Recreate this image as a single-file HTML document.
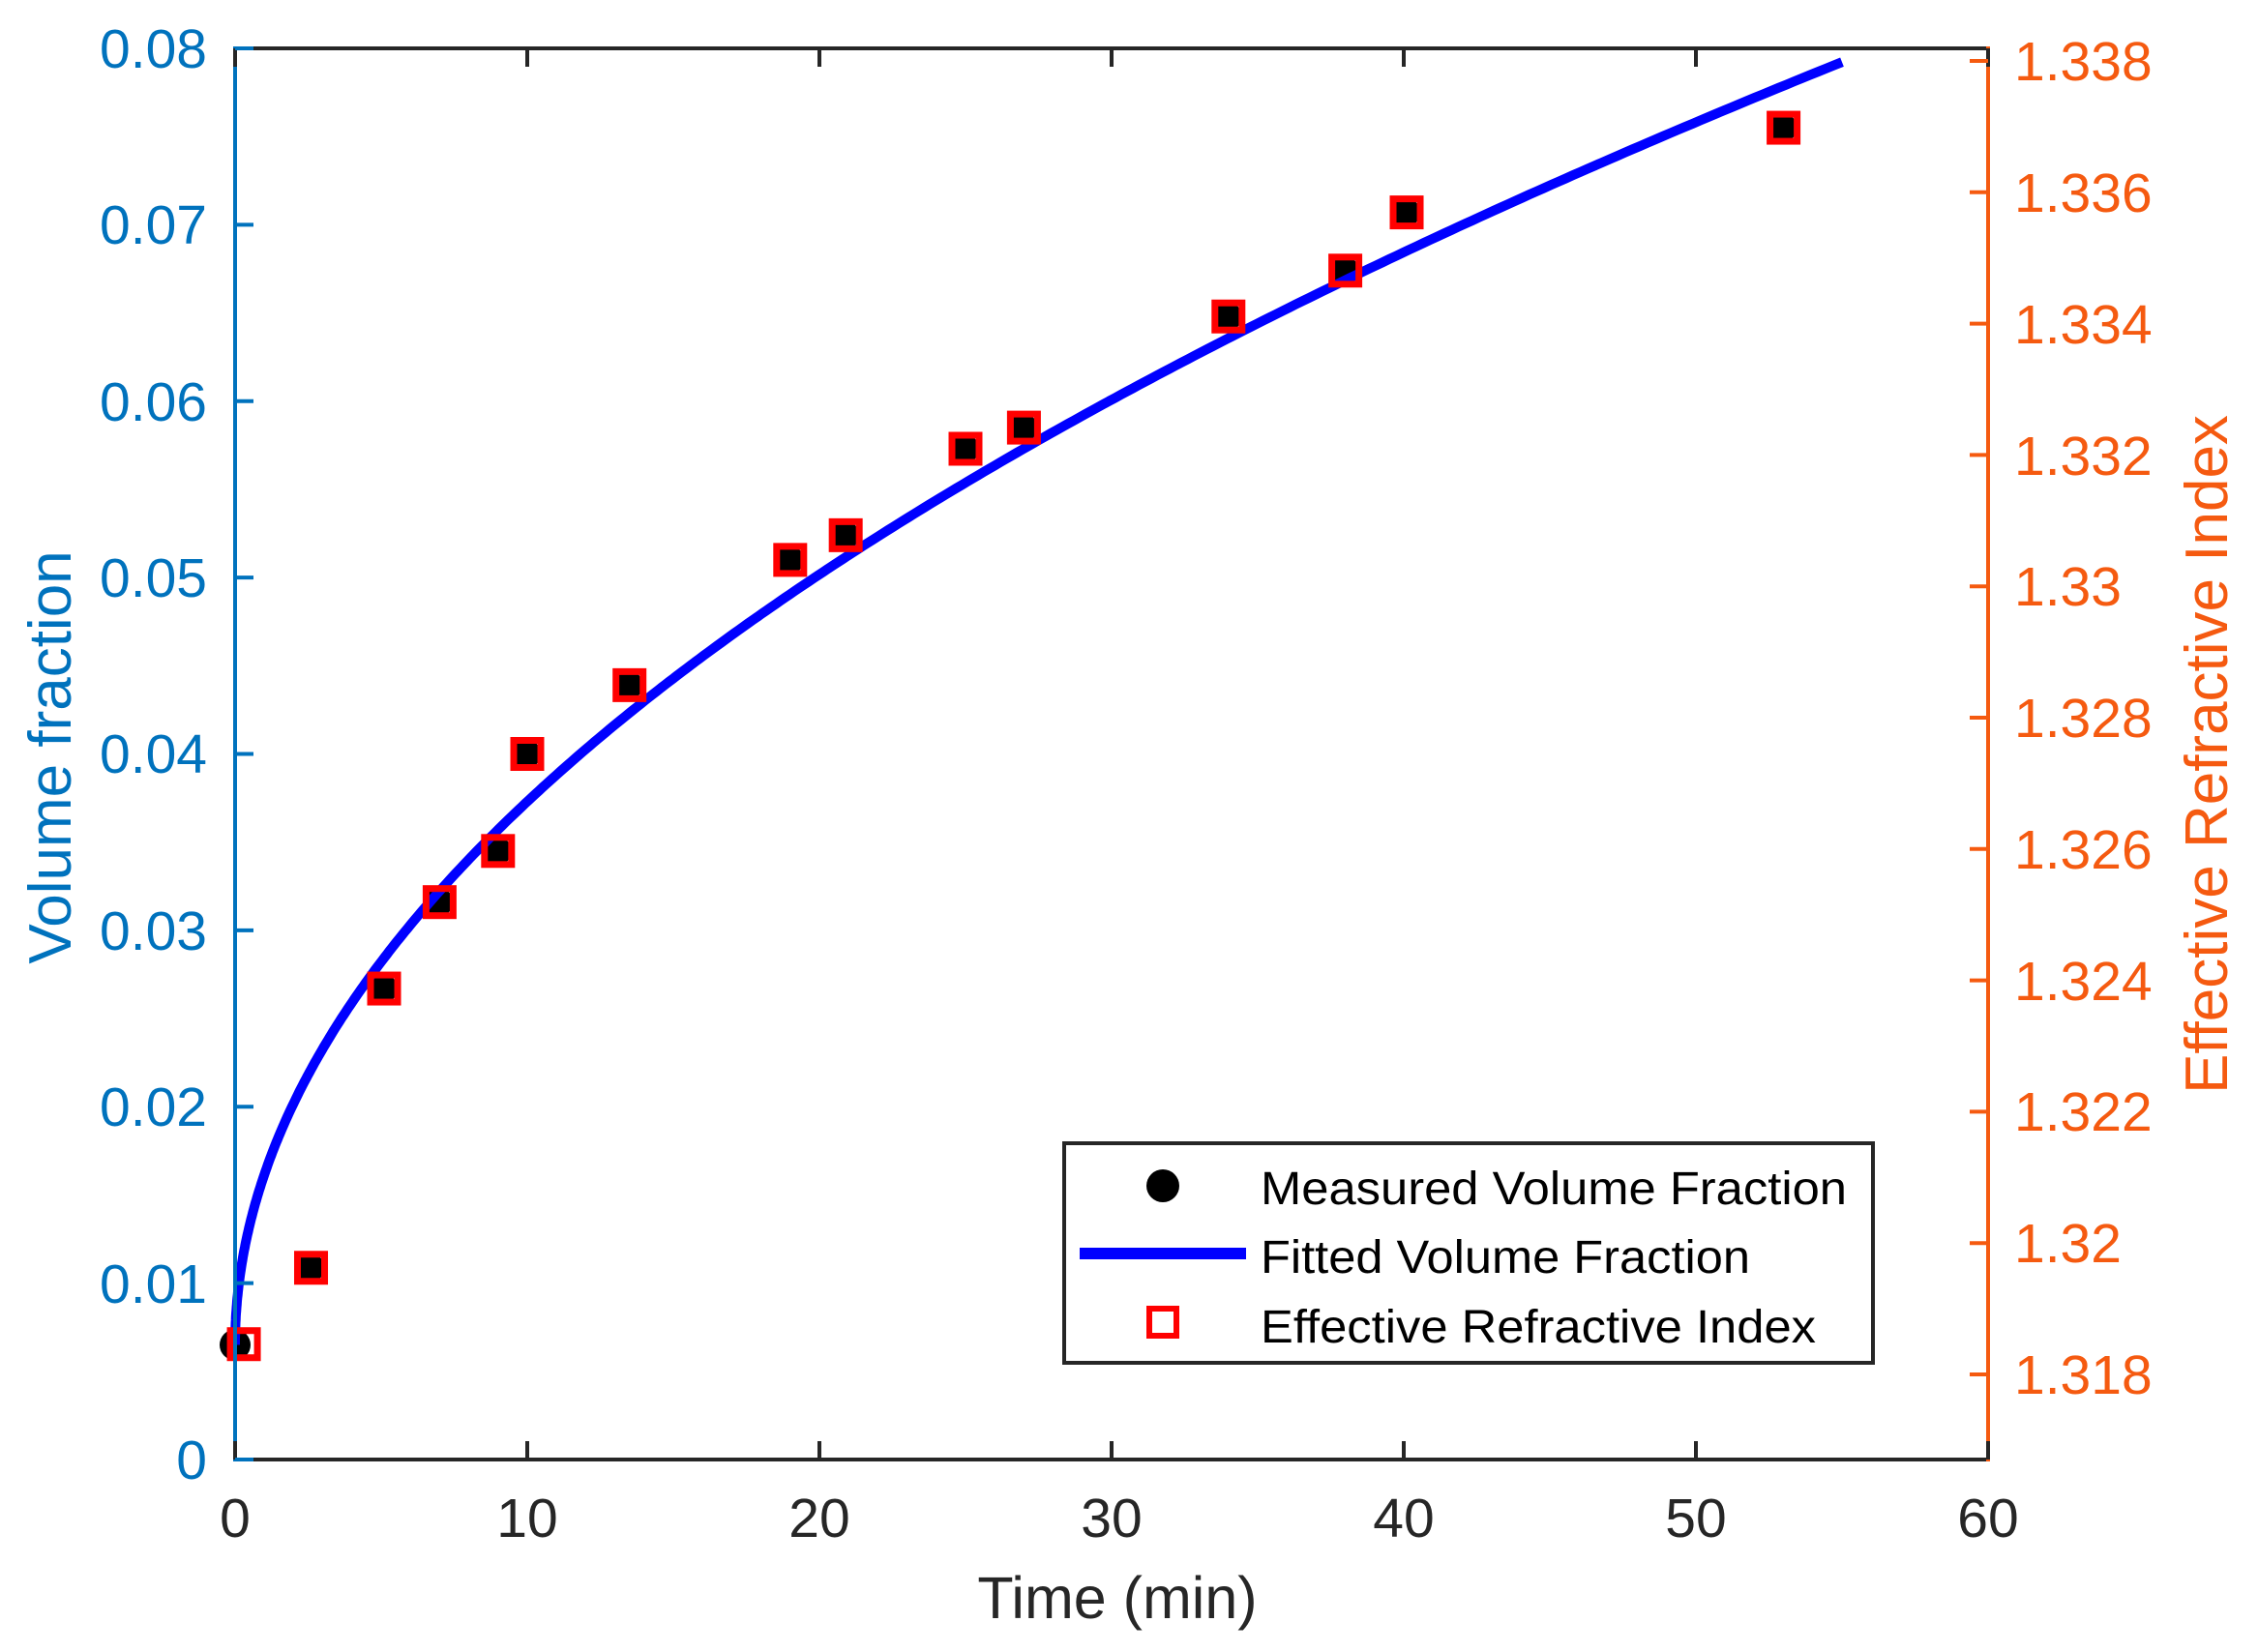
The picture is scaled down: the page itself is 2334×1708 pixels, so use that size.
<!DOCTYPE html>
<html><head><meta charset="utf-8"><style>
html,body{margin:0;padding:0;background:#fff}
svg{display:block}
text{font-family:"Liberation Sans",Arial,sans-serif}
</style></head><body>
<svg id="s" width="2334" height="1708" viewBox="0 0 2334 1708" xmlns="http://www.w3.org/2000/svg">
<rect width="2334" height="1708" fill="#fff"/>
<g id="plot"></g>
<line x1="243" y1="1509" x2="2055" y2="1509" stroke="#262626" stroke-width="4"/>
<line x1="243" y1="50" x2="2055" y2="50" stroke="#262626" stroke-width="4"/>
<line x1="243" y1="48" x2="243" y2="1511" stroke="#0072BD" stroke-width="4"/>
<line x1="2055" y1="48" x2="2055" y2="1511" stroke="#F55A10" stroke-width="4"/>
<g id="ticks"></g>
<g font-size="57" fill="#262626" text-anchor="middle">
<text x="243" y="1589">0</text><text x="545" y="1589">10</text><text x="847" y="1589">20</text>
<text x="1149" y="1589">30</text><text x="1451" y="1589">40</text><text x="1753" y="1589">50</text><text x="2055" y="1589">60</text>
</g>
<text x="1155" y="1673" font-size="61" fill="#262626" text-anchor="middle">Time (min)</text>
<g font-size="57" fill="#0072BD" text-anchor="end">
<text x="214" y="1529">0</text><text x="214" y="1347">0.01</text><text x="214" y="1164">0.02</text>
<text x="214" y="982">0.03</text><text x="214" y="799">0.04</text><text x="214" y="617">0.05</text>
<text x="214" y="435">0.06</text><text x="214" y="252">0.07</text><text x="214" y="70">0.08</text>
</g>
<text transform="translate(73,783) rotate(-90)" font-size="62" fill="#0072BD" text-anchor="middle">Volume fraction</text>
<g font-size="57" fill="#F55A10" text-anchor="start">
<text x="2082" y="1441">1.318</text><text x="2082" y="1305">1.32</text><text x="2082" y="1169">1.322</text>
<text x="2082" y="1034">1.324</text><text x="2082" y="898">1.326</text><text x="2082" y="762">1.328</text>
<text x="2082" y="626">1.33</text><text x="2082" y="491">1.332</text><text x="2082" y="355">1.334</text>
<text x="2082" y="219">1.336</text><text x="2082" y="83">1.338</text>
</g>
<text transform="translate(2302,780) rotate(-90)" font-size="62" fill="#F55A10" text-anchor="middle">Effective Refractive Index</text>
<rect x="1100" y="1182" width="836" height="227" fill="#fff" stroke="#262626" stroke-width="4"/>
<ellipse cx="1202" cy="1226" rx="17" ry="17" fill="#000"/>
<line x1="1116" y1="1296" x2="1288" y2="1296" stroke="#0000FF" stroke-width="12"/>
<rect x="1188" y="1353" width="28" height="28" fill="none" stroke="#FF0000" stroke-width="6"/>
<g font-size="48" fill="#000">
<text x="1303" y="1245" textLength="606" lengthAdjust="spacingAndGlyphs">Measured Volume Fraction</text>
<text x="1303" y="1316" textLength="506" lengthAdjust="spacingAndGlyphs">Fitted Volume Fraction</text>
<text x="1303" y="1388" textLength="574" lengthAdjust="spacingAndGlyphs">Effective Refractive Index</text>
</g>
</svg>
<script>
(function(){
var NS="http://www.w3.org/2000/svg";
function X(t){return 243+t*30.2;}
function Y(v){return 1509-v*18237.5;}
function el(n,a,p){var e=document.createElementNS(NS,n);for(var k in a)e.setAttribute(k,a[k]);p.appendChild(e);return e;}
var plot=document.getElementById('plot'),ticks=document.getElementById('ticks');
var d="";
for(var i=0;i<=400;i++){var t=55*Math.pow(i/400,2);var v=0.0065+0.00965*Math.pow(t,0.504);
d+=(i?"L":"M")+X(t).toFixed(1)+","+Y(v).toFixed(1);}
var pts=[[0.3,0.00654],[2.6,0.01087],[5.1,0.0267],[7.0,0.0316],[9.0,0.0345],[10.0,0.0400],[13.5,0.0439],[19.0,0.0510],[20.9,0.0524],[25.0,0.0573],[27.0,0.0585],[34.0,0.0648],[38.0,0.0674],[40.1,0.0707],[53.0,0.0755]];
el('circle',{cx:X(0),cy:Y(0.0065),r:16,fill:'#000'},plot);
pts.forEach(function(p){if(p[0]>1)el('circle',{cx:X(p[0])-1,cy:Y(p[1]),r:15,fill:'#000'},plot);});
el('path',{d:d,fill:'none',stroke:'#0000FF','stroke-width':10,'stroke-linejoin':'round'},plot);
pts.forEach(function(p){var cx=X(p[0]),cy=Y(p[1]);
el('rect',{x:cx-14,y:cy-14,width:28,height:28,fill:'none',stroke:'#FF0000','stroke-width':7},plot);});
for(var k=0;k<=6;k++){var x=243+k*302;
el('line',{x1:x,y1:1509,x2:x,y2:1490,stroke:'#262626','stroke-width':4},ticks);
el('line',{x1:x,y1:50,x2:x,y2:69,stroke:'#262626','stroke-width':4},ticks);}
for(var k=0;k<=8;k++){var y=1509-k*182.375;
el('line',{x1:243,y1:y,x2:262,y2:y,stroke:'#0072BD','stroke-width':4},ticks);}
for(var k=0;k<=10;k++){var y=1421-k*135.8;
el('line',{x1:2055,y1:y,x2:2036,y2:y,stroke:'#F55A10','stroke-width':4},ticks);}
})();
</script>
</body></html>
